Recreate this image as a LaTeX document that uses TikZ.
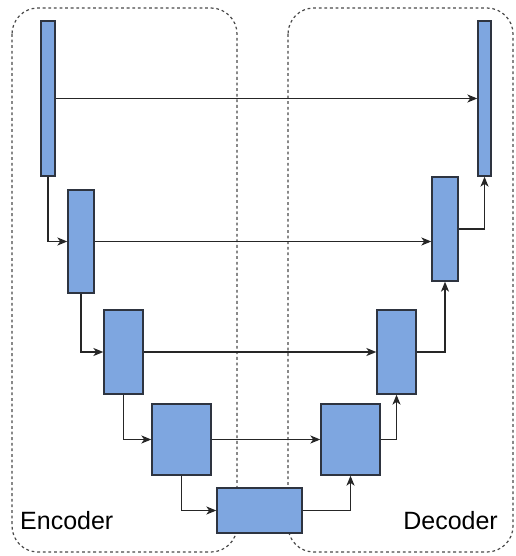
\documentclass[tikz,border=0pt]{standalone}
\usepackage{fontspec}
\setmainfont{Liberation Sans}
\usetikzlibrary{arrows.meta}
\definecolor{blockfill}{HTML}{7EA6E0}
\definecolor{blockline}{HTML}{2E3440}
\definecolor{frameline}{HTML}{4A4A4A}
\begin{document}
\begin{tikzpicture}[x=1pt,y=-1pt,
  block/.style={draw=blockline,fill=blockfill,line width=1.3pt,inner sep=0pt,
    minimum width=#1},
  frame/.style={draw=frameline,line width=1.2pt,dash pattern=on 2.8pt off 2.8pt,
    rounded corners=26pt},
  arr/.style={draw=black!85,line width=1.3pt,-{Stealth[length=10pt,width=8pt,inset=2.8pt]}},
  lbl/.style={font=\fontsize{25}{28}\selectfont,inner sep=0pt,anchor=base west}]
\useasboundingbox (0,0) rectangle (515,556);
% encoder / decoder frames
\draw[frame] (12,8) rectangle (237,552);
\draw[frame] (288,8) rectangle (513,552);
% encoder blocks
\node[block=14pt,minimum height=155pt] (E1) at (48,98.5) {};
\node[block=26pt,minimum height=103pt] (E2) at (81,241.5) {};
\node[block=39pt,minimum height=84pt] (E3) at (123.5,352) {};
\node[block=59pt,minimum height=71pt] (E4) at (181.5,439.5) {};
% bottleneck
\node[block=85pt,minimum height=45pt] (B) at (259.5,510.5) {};
% decoder blocks
\node[block=59pt,minimum height=71pt] (D4) at (350.5,439.5) {};
\node[block=39pt,minimum height=84pt] (D3) at (396.5,352) {};
\node[block=26pt,minimum height=104pt] (D2) at (445,229) {};
\node[block=13pt,minimum height=155pt] (D1) at (484.5,98.5) {};
% skip connections
\draw[arr] (E1.east) -- (E1.east -| D1.west);
\draw[arr] (E2.east) -- (E2.east -| D2.west);
\draw[arr] (E3.east) -- (E3.east -| D3.west);
\draw[arr] (E4.east) -- (E4.east -| D4.west);
% contracting path
\draw[arr] (E1.south) |- (E2.west);
\draw[arr] (E2.south) |- (E3.west);
\draw[arr] (E3.south) |- (E4.west);
\draw[arr] (E4.south) |- (B.west);
% expanding path
\draw[arr] (B.east) -| (D4.south);
\draw[arr] (D4.east) -| (D3.south);
\draw[arr] (D3.east) -| (D2.south);
\draw[arr] (D2.east) -| (D1.south);
% labels
\node[lbl] (enc) at (20,529.5) {Encoder};
\node[lbl,anchor=base east] (dec) at (498,529.5) {Decoder};
\end{tikzpicture}
\end{document}
